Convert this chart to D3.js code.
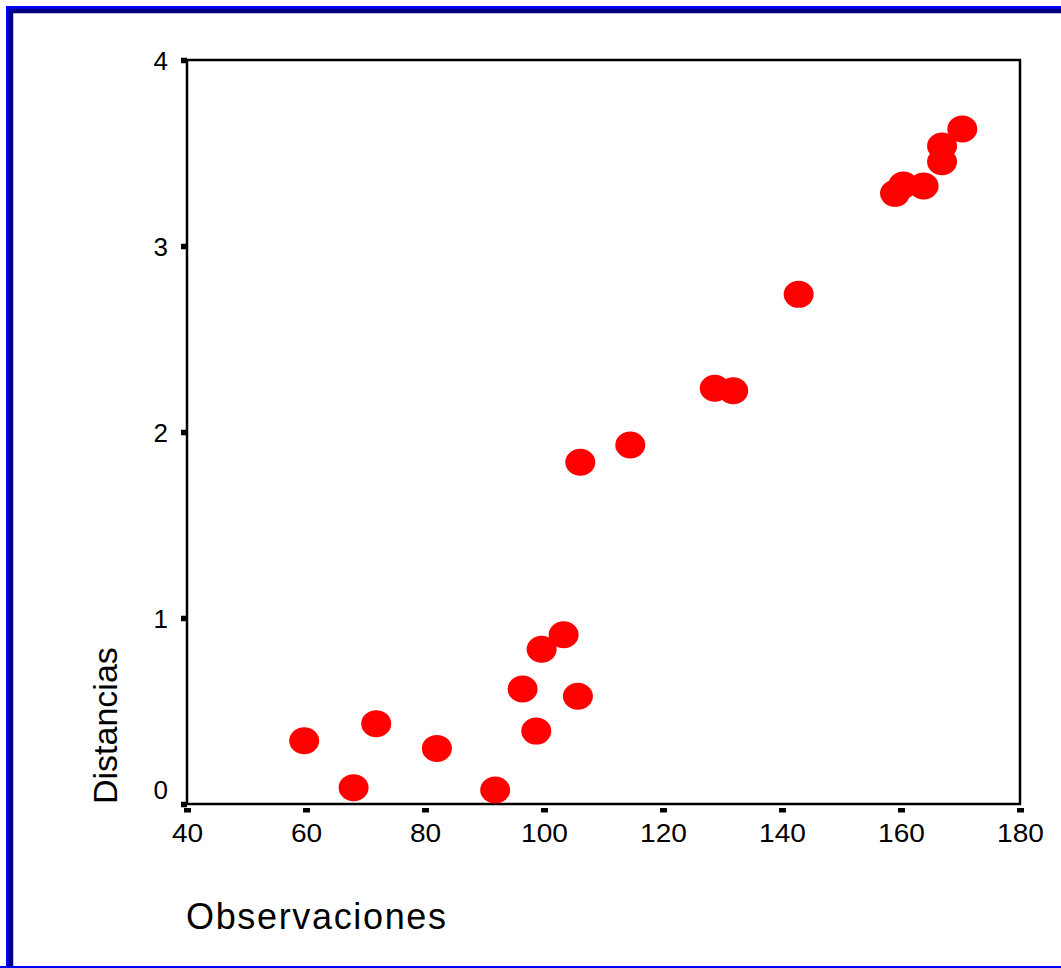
<!DOCTYPE html>
<html>
<head>
<meta charset="utf-8">
<script src="https://cdn.jsdelivr.net/npm/d3@7"></script>
<style>
  body { margin: 0; background: #fff; }
  svg { display: block; font-family: "Liberation Sans", Arial, sans-serif; }
</style>
</head>
<body>
<div id="chart"></div>
<script>
// observaciones vs distancias
var obs = [59.7, 68.0, 71.8, 82.0, 91.8, 96.4, 98.7, 99.6, 103.3, 105.7, 106.1,
           114.5, 128.7, 131.8, 142.8, 159.0, 160.4, 163.8, 166.9, 166.9, 170.3];
var dist = [0.340, 0.088, 0.432, 0.299, 0.075, 0.618, 0.392, 0.832, 0.910, 0.579, 1.837,
            1.930, 2.235, 2.222, 2.740, 3.283, 3.328, 3.323, 3.453, 3.538, 3.629];
var xTicks = [40, 60, 80, 100, 120, 140, 160, 180];
var yTicks = [0, 1, 2, 3, 4];

var W = 1061, H = 968;
var plotL = 187, plotR = 1020, plotT = 60, plotB = 804;

var svg = d3.select("#chart").append("svg")
  .attr("width", W)
  .attr("height", H);

// marco exterior
svg.append("path")
  .attr("d", "M7.5,968 V7.5 H" + (W + 5))
  .attr("fill", "none").attr("stroke", "#0000ff").attr("stroke-width", 3);
svg.append("path")
  .attr("d", "M11,968 V11 H" + (W + 5))
  .attr("fill", "none").attr("stroke", "#000080").attr("stroke-width", 4.5);
svg.append("rect").attr("x", 0).attr("y", 966).attr("width", W).attr("height", 2)
  .attr("fill", "#0000ff");

var x = d3.scaleLinear().domain([40, 180]).range([plotL, plotR]);
var y = d3.scaleLinear().domain([0, 4]).range([plotB, plotT]);

// ejes
var xAxis = svg.append("g")
  .attr("transform", "translate(0," + plotB + ")")
  .call(d3.axisBottom(x).tickValues(xTicks).tickSizeOuter(0).tickFormat(d3.format("d")))
  .attr("font-family", "Liberation Sans, Arial, sans-serif");
xAxis.select(".domain").remove();
xAxis.selectAll(".tick line")
  .attr("y1", 4).attr("y2", 8.5)
  .attr("stroke", "#000").attr("stroke-width", 7);
xAxis.selectAll(".tick text")
  .attr("y", 38).attr("dy", 0)
  .attr("fill", "#000")
  .style("font-size", "26px")
  .attr("transform", "scale(1.08,1)");

var yAxis = svg.append("g")
  .attr("transform", "translate(" + plotL + ",0)")
  .call(d3.axisLeft(y).tickValues(yTicks).tickSizeOuter(0).tickFormat(d3.format("d")))
  .attr("font-family", "Liberation Sans, Arial, sans-serif");
yAxis.select(".domain").remove();
yAxis.selectAll(".tick line")
  .attr("x1", 0).attr("x2", -6)
  .attr("stroke", "#000").attr("stroke-width", 5.5);
yAxis.selectAll(".tick text")
  .attr("x", -19)
  .attr("dy", function(d) { return d === 0 ? "-0.2em" : "0.38em"; })
  .attr("fill", "#000")
  .style("font-size", "26px");

// caja del grafico
svg.append("rect")
  .attr("x", plotL).attr("y", plotT)
  .attr("width", plotR - plotL).attr("height", plotB - plotT)
  .attr("fill", "none").attr("stroke", "#000").attr("stroke-width", 2.5);

// puntos
svg.append("g").selectAll("ellipse")
  .data(obs)
  .enter().append("ellipse")
  .attr("cx", function(d) { return x(d); })
  .attr("cy", function(d, i) { return y(dist[i]); })
  .attr("rx", 15)
  .attr("ry", 13.5)
  .attr("fill", "#ff0000");

// titulos de ejes
svg.append("text")
  .attr("x", 186).attr("y", 929)
  .style("font-size", "36px")
  .attr("textLength", 260)
  .attr("fill", "#000")
  .text("Observaciones");

svg.append("text")
  .attr("transform", "translate(117,804) rotate(-90)")
  .style("font-size", "34px")
  .attr("fill", "#000")
  .text("Distancias");
</script>
</body>
</html>
